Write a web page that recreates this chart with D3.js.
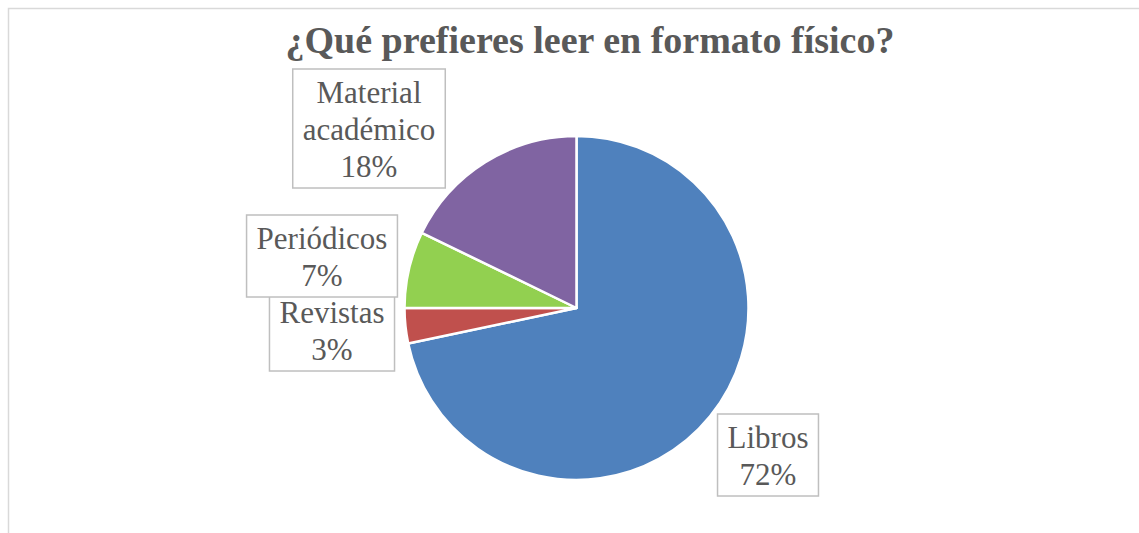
<!DOCTYPE html>
<html>
<head>
<meta charset="utf-8">
<script src="https://cdn.jsdelivr.net/npm/d3@7"></script>
<style>
  body { margin: 0; background: #fff; }
  svg { display: block; }
  text { font-family: "Liberation Serif", "Times New Roman", "DejaVu Serif", serif; }
</style>
</head>
<body>
<div id="chart"></div>
<script>
// data
const categories = ["Libros", "Revistas", "Periódicos", "Material académico"];
const values = [71.7, 3.3, 7.2, 17.8];
const colors = ["#4F81BD", "#C0504D", "#92D050", "#8064A2"];
const titleText = "¿Qué prefieres leer en formato físico?";

// label box placement (layout only): centre x and box top for each category
const labelPos = {
    "Libros": {cx: 768, top: 414},
    "Revistas": {cx: 332, top: 289},
    "Periódicos": {cx: 322, top: 215},
    "Material académico": {cx: 369, top: 69}
};
// how each label is split into lines
const labelLines = {
    "Material académico": ["Material", "académico"]
};

const width = 1139, height = 533;
const cx = 576.5, cy = 308, radius = 172;
const lineH = 37, fontSize = 31, textColor = "#595959";

const svg = d3.select("#chart").append("svg")
    .attr("width", width)
    .attr("height", height);

// chart frame (runs past the right and bottom edges)
svg.append("rect")
    .attr("x", 8.5)
    .attr("y", 8.5)
    .attr("width", 1200)
    .attr("height", 600)
    .attr("fill", "#fff")
    .attr("stroke", "#D9D9D9")
    .attr("stroke-width", 1.5);

svg.append("text")
    .text(titleText)
    .attr("x", 590)
    .attr("y", 53)
    .attr("text-anchor", "middle")
    .attr("font-weight", "bold")
    .attr("font-size", 38)
    .attr("fill", textColor);

const data = categories.map((c, i) => ({name: c, value: values[i], color: colors[i]}));

const pie = d3.pie().sort(null).value(d => d.value);
const arc = d3.arc().innerRadius(0).outerRadius(radius);

const g = svg.append("g").attr("transform", `translate(${cx},${cy})`);

g.selectAll("path")
    .data(pie(data))
    .join("path")
    .attr("d", arc)
    .attr("fill", d => d.data.color)
    .attr("stroke", "#fff")
    .attr("stroke-width", 2.5)
    .attr("stroke-linejoin", "round");

// data labels with gray boxes (Periódicos is drawn over Revistas, as in the original)
const total = d3.sum(values);
data.forEach(d => {
    const pos = labelPos[d.name];
    const lines = (labelLines[d.name] || [d.name]).concat([Math.round(d.value / total * 100) + "%"]);
    const lg = svg.append("g");
    const box = lg.append("rect");
    const txt = lg.append("text")
        .attr("text-anchor", "middle")
        .attr("font-size", fontSize)
        .attr("fill", textColor);
    lines.forEach((l, i) => {
        txt.append("tspan")
            .attr("x", pos.cx)
            .attr("y", pos.top + 34 + i * lineH)
            .text(l);
    });
    const bb = txt.node().getBBox();
    const w = bb.width + 20;
    box.attr("x", pos.cx - w / 2)
        .attr("y", pos.top)
        .attr("width", w)
        .attr("height", lines.length * lineH + 8)
        .attr("fill", "#fff")
        .attr("stroke", "#BFBFBF")
        .attr("stroke-width", 1.5);
});
</script>
</body>
</html>
